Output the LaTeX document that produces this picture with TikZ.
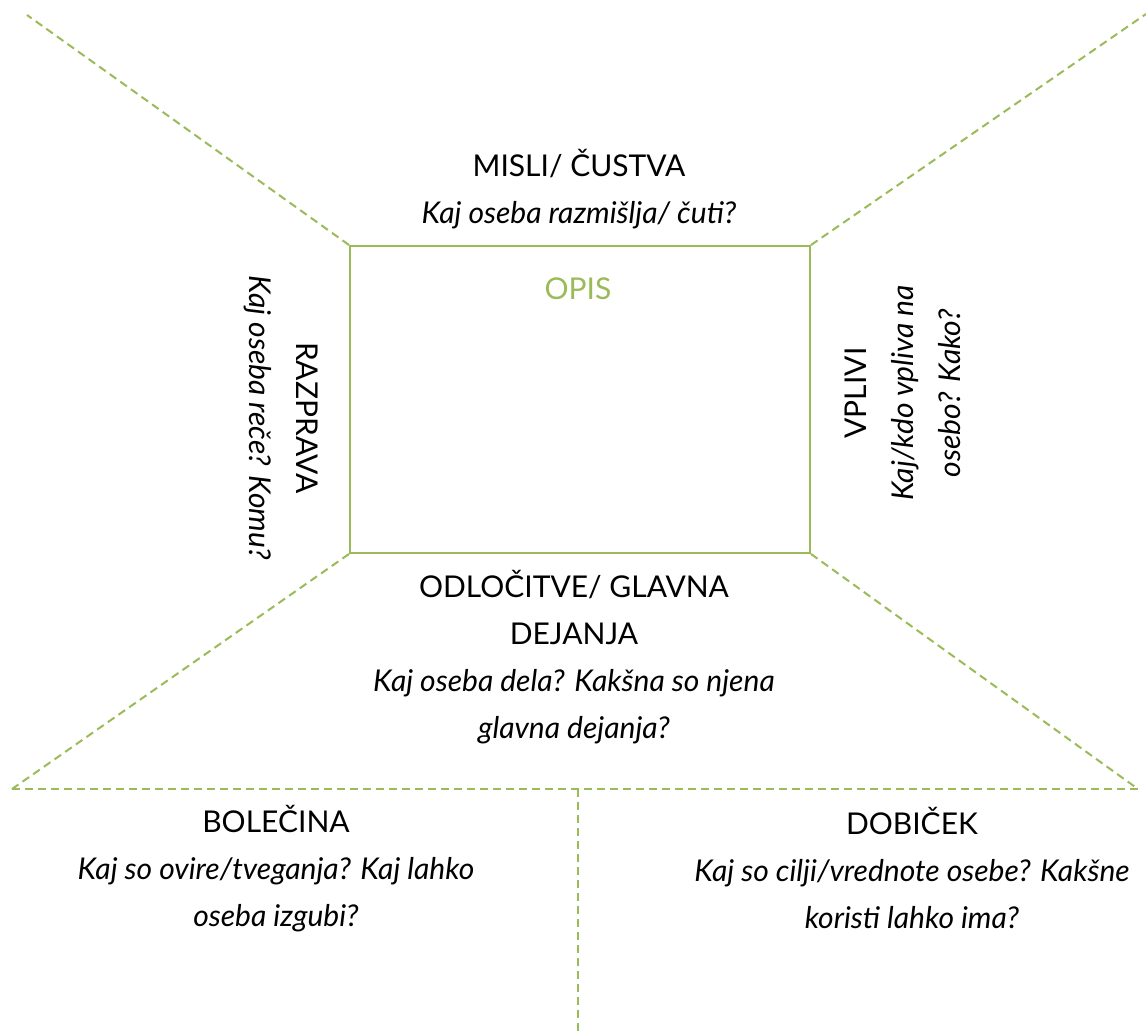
\documentclass[tikz,border=0pt]{standalone}
\usepackage{fontspec}
\setmainfont{Lato}
\definecolor{olive}{HTML}{9BBB59}
\begin{document}
\begin{tikzpicture}[x=1pt,y=-1pt,
  dashline/.style={draw=olive, line width=2pt, dash pattern=on 8pt off 5pt},
  lbl/.style={align=center, font=\fontsize{30}{47}\selectfont, inner sep=0pt},
  boxst/.style={draw=olive, line width=2pt, minimum width=460pt, minimum height=307pt, inner sep=0pt}]
\useasboundingbox (0,0) rectangle (1146,1033);
\node[boxst] (box) at (580,399.5) {};
\coordinate (tl) at (27,15);
\coordinate (tr) at (1146,14);
\coordinate (bl) at (12,789);
\coordinate (br) at (1138,789);
\coordinate (mid) at (578,789);
\coordinate (midb) at (578,1033);
\draw[dashline] (box.north west) -- (tl);
\draw[dashline] (box.north east) -- (tr);
\draw[dashline] (box.south west) -- (bl);
\draw[dashline] (box.south east) -- (br);
\draw[dashline] (bl) -- (br);
\draw[dashline] (mid) -- (midb);

\node[lbl, text=olive] (opis) at (578,289) {OPIS};
\node[lbl] (misli) at (579,189) {MISLI/ ČUSTVA\\\textit{Kaj oseba razmišlja/ čuti?}};
\node[lbl, rotate=-90] (razprava) at (281,418) {RAZPRAVA\\\textit{Kaj oseba reče? Komu?}};
\node[lbl, rotate=90] (vplivi) at (903,393) {VPLIVI\\\textit{Kaj/kdo vpliva na}\\\textit{osebo? Kako?}};
\node[lbl] (odl) at (574,657) {ODLOČITVE/ GLAVNA\\DEJANJA\\\textit{Kaj oseba dela? Kakšna so njena}\\\textit{glavna dejanja?}};
\node[lbl] (bol) at (276,869) {BOLEČINA\\\textit{Kaj so ovire/tveganja? Kaj lahko}\\\textit{oseba izgubi?}};
\node[lbl] (dob) at (912,868) {DOBIČEK\\\textit{Kaj so cilji/vrednote osebe? Kakšne}\\\textit{koristi lahko ima?}};
\end{tikzpicture}
\end{document}
